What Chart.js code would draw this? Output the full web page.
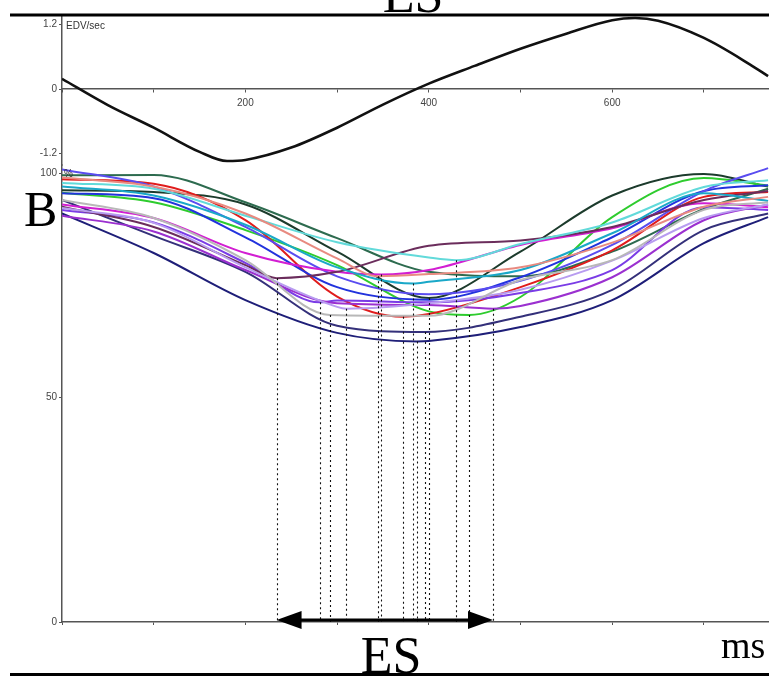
<!DOCTYPE html>
<html lang="en">
<head>
<meta charset="UTF-8">
<title>EDV/sec and volume curves</title>
<script src="https://cdn.jsdelivr.net/npm/chart.js"></script>
<style>
  body { margin: 0; background: #fff; }
  .wrap { position: relative; width: 769px; height: 678px; }
  .wrap canvas { position: absolute; left: 0; top: 0; }
</style>
</head>
<body>
<div class="wrap">
  <canvas id="edvChart" width="769" height="678"></canvas>
  <canvas id="volChart" width="769" height="678"></canvas>
</div>
<script>
// upper panel: EDV/sec
var edvTimes  = [0, 50, 100, 150, 180, 200, 250, 300, 350, 400, 450, 500, 550, 600, 625, 650, 700, 750, 770];
var edvValues = [0.19, -0.3, -0.72, -1.17, -1.34, -1.32, -1.09, -0.72, -0.29, 0.1, 0.43, 0.75, 1.03, 1.28, 1.32, 1.27, 0.95, 0.46, 0.24];
var edvTicks  = [-1.2, 0, 1.2];

// lower panel: volume curves (% of EDV)
var times = [0, 100, 200, 300, 400, 500, 600, 700, 770];
var darkTeal   = [99.5, 99.6, 93.5, 85.5, 78, 77, 82.5, 92, 96.5];
var darkGreen  = [96.2, 95.8, 93, 82.5, 72.2, 82.5, 95, 99.8, 97];
var cyan       = [97.8, 96.5, 90.5, 84.6, 81.2, 84.2, 89, 96.9, 98.4];
var turquoise  = [97, 95, 88.5, 79, 75.8, 78.4, 86.6, 95.5, 93.8];
var green      = [95.6, 93.5, 87.3, 79.5, 69.2, 72.4, 90.2, 98.9, 97.2];
var red        = [98.6, 97.6, 89.5, 72.5, 68.6, 74.6, 82.8, 94.7, 95.8];
var salmon     = [99, 97, 91, 81, 77.5, 79, 84.5, 92.5, 94.7];
var magenta    = [93, 90, 82.2, 78, 78.4, 84, 87.7, 93.3, 92.4];
var maroon     = [92.5, 88, 79.5, 78, 83.8, 85, 88, 94, 96];
var blue       = [95.5, 94.4, 85.7, 74.6, 71.8, 76.8, 85.7, 96, 97.3];
var violet     = [91.8, 89, 80, 71.6, 71.2, 73.3, 78.4, 92.4, 91.8];
var lavender   = [92.2, 88.9, 79, 70.2, 71, 74, 80.5, 90, 93];
var gray       = [94, 90, 80.6, 68.8, 68.2, 76.2, 80.6, 91.8, 93.5];
var purple     = [90.5, 87, 78.4, 71, 70.6, 70.4, 76.8, 89.5, 93];
var navy2      = [94, 86, 78, 66, 64.8, 68, 74, 87.3, 91];
var navy       = [91, 82.2, 71.7, 64.4, 62.6, 65.7, 71.7, 84.4, 90.2];
var blueViolet = [100.8, 97, 88, 77, 73, 76, 84, 96, 101.1];

var series = [gray, lavender, salmon, cyan, turquoise, maroon, magenta, purple, violet,
              blueViolet, blue, red, green, navy2, navy, darkTeal, darkGreen];
var seriesColors = ['#b8b8b8', '#b89cf0', '#e88a80', '#62dada', '#1aa8c8', '#6b2d5c', '#d21ed2', '#9b30d0', '#7a3ce6',
                    '#5a4cf0', '#2233dd', '#e01c1c', '#2ecc2e', '#34307a', '#1e1e78', '#2d6b4f', '#1c3b2c'];
// end-systole time (ms) and volume at it, per curve
var esTimes  = [292, 310, 345, 430, 383, 234, 348, 470, 281, null, null, 372, 444, 396, 387, null, 400];
var esValues = [68.4, 69.8, 77.0, 80.6, 75.4, 76.6, 77.4, 69.8, 71.2, null, null, 68.0, 68.4, 64.6, 62.5, null, 72.2];

var pctTicks = [0, 50, 100];
var xLabels = [200, 400, 600];

var tickFont = { family: "'Liberation Sans Narrow', 'Liberation Sans', sans-serif", size: 10 };

function buildPoints(values, esT, esV) {
    var pts = [];
    times.forEach(function (t, i) {
        if (esT !== null && Math.abs(t - esT) < 10) return;
        pts.push({ x: t, y: values[i] });
    });
    if (esT !== null) pts.push({ x: esT, y: esV });
    pts.sort(function (a, b) { return a.x - b.x; });
    return pts;
}

function xTickLabel(v) {
    return xLabels.indexOf(v) >= 0 ? String(v) : '';
}

new Chart(document.getElementById('edvChart'), {
    type: 'line',
    data: {
        datasets: [{
            data: edvTimes.map(function (t, i) { return { x: t, y: edvValues[i] }; }),
            borderColor: '#111',
            borderWidth: 2.6,
            pointRadius: 0,
            cubicInterpolationMode: 'monotone',
            fill: false
        }]
    },
    options: {
        responsive: false,
        animation: false,
        layout: { padding: { top: 15, bottom: 513, left: 0, right: 0 } },
        plugins: { legend: { display: false }, tooltip: { enabled: false } },
        scales: {
            x: {
                type: 'linear', position: { y: 0 }, min: 0, max: 771,
                afterFit: function (s) { s.height = 0; },
                ticks: { stepSize: 100, includeBounds: false, autoSkip: false, maxRotation: 0,
                         padding: 5, color: '#444', font: tickFont, callback: xTickLabel },
                grid: { drawOnChartArea: false, tickLength: 3, color: '#555' },
                border: { color: '#555', width: 1.5 }
            },
            y: {
                type: 'linear', min: -1.414, max: 1.377,
                afterFit: function (s) { s.width = 62; },
                afterBuildTicks: function (s) { s.ticks = edvTicks.map(function (v) { return { value: v }; }); },
                ticks: { padding: 2, color: '#444', font: tickFont,
                         callback: function (v) { return v === 0 ? '0' : v.toFixed(1); } },
                grid: { drawOnChartArea: false, tickLength: 3, color: '#555' },
                border: { color: '#555', width: 1.5 }
            }
        }
    }
});

// dashed ES lines, the ES arrow and the figure lettering
var esMarks = {
    id: 'esMarks',
    afterDatasetsDraw: function (chart) {
        var ctx = chart.ctx, xs = chart.scales.x, ys = chart.scales.y;
        var base = ys.getPixelForValue(0);
        ctx.save();
        ctx.setLineDash([2, 3]);
        ctx.strokeStyle = '#111';
        ctx.lineWidth = 1.1;
        esTimes.forEach(function (t, i) {
            if (t === null) return;
            var x = Math.round(xs.getPixelForValue(t)) + 0.5;
            ctx.beginPath();
            ctx.moveTo(x, ys.getPixelForValue(esValues[i]));
            ctx.lineTo(x, base);
            ctx.stroke();
        });
        ctx.setLineDash([]);

        var known = esTimes.filter(function (t) { return t !== null; });
        var x1 = xs.getPixelForValue(Math.min.apply(null, known));
        var x2 = xs.getPixelForValue(Math.max.apply(null, known));
        var ay = base - 2;
        ctx.fillStyle = '#000';
        ctx.strokeStyle = '#000';
        ctx.lineWidth = 3;
        ctx.beginPath();
        ctx.moveTo(x1 + 20, ay);
        ctx.lineTo(x2 - 20, ay);
        ctx.stroke();
        ctx.beginPath();
        ctx.moveTo(x1, ay); ctx.lineTo(x1 + 25, ay - 9); ctx.lineTo(x1 + 25, ay + 9); ctx.closePath();
        ctx.fill();
        ctx.beginPath();
        ctx.moveTo(x2, ay); ctx.lineTo(x2 - 25, ay - 9); ctx.lineTo(x2 - 25, ay + 9); ctx.closePath();
        ctx.fill();
        ctx.restore();
    },
    afterDraw: function (chart) {
        var ctx = chart.ctx;
        ctx.save();
        ctx.fillStyle = '#000';
        ctx.fillRect(10, 13.5, 759, 3);
        ctx.fillRect(10, 673, 759, 3);

        ctx.font = "52px 'Liberation Serif', serif";
        ctx.textBaseline = 'alphabetic';
        ctx.textAlign = 'center';
        ctx.fillText('ES', 413, 12);
        ctx.fillText('ES', 391, 673);
        ctx.textAlign = 'left';
        ctx.font = "50px 'Liberation Serif', serif";
        ctx.fillText('B', 24, 226);
        ctx.font = "38px 'Liberation Serif', serif";
        ctx.fillText('ms', 721, 658);

        ctx.fillStyle = '#333';
        ctx.font = "10px 'Liberation Sans Narrow', 'Liberation Sans', sans-serif";
        ctx.fillText('EDV/sec', 66, 29);
        ctx.fillText('%', 64, 177);
        ctx.restore();
    }
};

new Chart(document.getElementById('volChart'), {
    type: 'line',
    data: {
        datasets: series.map(function (vals, i) {
            return {
                data: buildPoints(vals, esTimes[i], esValues[i]),
                borderColor: seriesColors[i],
                borderWidth: 2,
                pointRadius: 0,
                cubicInterpolationMode: 'monotone',
                fill: false
            };
        })
    },
    options: {
        responsive: false,
        animation: false,
        layout: { padding: { top: 165, bottom: 56, left: 0, right: 0 } },
        plugins: { legend: { display: false }, tooltip: { enabled: false } },
        scales: {
            x: {
                type: 'linear', position: 'bottom', min: 0, max: 771,
                afterFit: function (s) { s.height = 0; },
                ticks: { stepSize: 100, includeBounds: false, autoSkip: false, maxRotation: 0,
                         padding: 8, color: '#444', font: tickFont, callback: xTickLabel },
                grid: { drawOnChartArea: false, tickLength: 3, color: '#555' },
                border: { color: '#555', width: 1.5 }
            },
            y: {
                type: 'linear', min: 0, max: 101.8,
                afterFit: function (s) { s.width = 62; },
                afterBuildTicks: function (s) { s.ticks = pctTicks.map(function (v) { return { value: v }; }); },
                ticks: { padding: 2, color: '#444', font: tickFont },
                grid: { drawOnChartArea: false, tickLength: 3, color: '#555' },
                border: { color: '#555', width: 1.5 }
            }
        }
    },
    plugins: [esMarks]
});
</script>
</body>
</html>
